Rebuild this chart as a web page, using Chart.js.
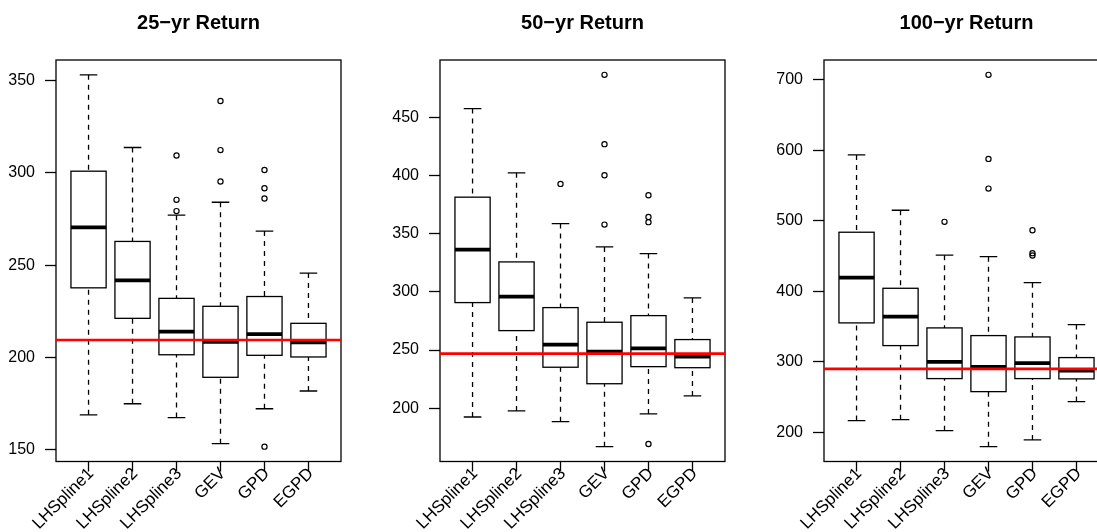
<!DOCTYPE html>
<html>
<head>
<meta charset="utf-8">
<script src="https://cdn.jsdelivr.net/npm/chart.js@4/dist/chart.umd.min.js"></script>
<style>
  html, body { margin: 0; padding: 0; background: #fff; }
  body { position: relative; width: 1097px; height: 532px; overflow: hidden; }
  .panel { position: absolute; top: 0; width: 361px; height: 532px; }
</style>
</head>
<body>
<div class="panel" style="left:0"><canvas id="chart25"></canvas></div>
<div class="panel" style="left:384px"><canvas id="chart50"></canvas></div>
<div class="panel" style="left:768px"><canvas id="chart100"></canvas></div>
<script>
'use strict';

var categories = ['LHSpline1', 'LHSpline2', 'LHSpline3', 'GEV', 'GPD', 'EGPD'];

// 25-yr return level
var lo25 = [169, 175, 167.5, 153.4, 172.3, 181.9];
var q1_25 = [237.7, 221.2, 201.5, 189.3, 201.2, 200.3];
var med25 = [270.4, 241.7, 214, 208.5, 212.7, 208.2];
var q3_25 = [300.8, 262.8, 232, 227.7, 233, 218.5];
var hi25 = [352.9, 313.6, 277, 284, 268.4, 245.7];
var out25 = [[], [], [309.3, 285.3, 279.2], [338.8, 312.2, 295.2], [301.4, 291.6, 286, 151.8], []];
var ref25 = 209.5;
var ticks25 = [150, 200, 250, 300, 350];

// 50-yr return level
var lo50 = [192.4, 197.6, 188.4, 166.9, 195, 210.5];
var q1_50 = [290.8, 266.7, 235.2, 221, 235.7, 234.8];
var med50 = [336.4, 296, 254.7, 248.6, 251.5, 244.3];
var q3_50 = [381.5, 325.8, 286.5, 273.9, 279.6, 259];
var hi50 = [457.7, 402.4, 358.8, 338.7, 333, 294.8];
var out50 = [[], [], [392.9], [486.7, 427.1, 400.4, 357.9], [383.2, 364.5, 360, 169.2], []];
var ref50 = 246.9;
var ticks50 = [200, 250, 300, 350, 400, 450];

// 100-yr return level
var lo100 = [216.3, 217.7, 202.1, 179.4, 188.9, 243.3];
var q1_100 = [354.9, 322.7, 275.9, 257.4, 275.9, 275.5];
var med100 = [419.2, 363.8, 299.6, 292.5, 297.7, 287.2];
var q3_100 = [483.5, 404, 347.8, 336.9, 335, 305.7];
var hi100 = [593.2, 514.7, 450.9, 448.9, 412, 352.5];
var out100 = [[], [], [498.2], [706.7, 587.5, 545.4], [486.4, 453.8, 450.4], []];
var ref100 = 289.7;
var ticks100 = [200, 300, 400, 500, 600, 700];

var FONT = "'Liberation Sans', Arial, Helvetica, sans-serif";
var LW = 1.3;

function boxplotPlugin(lo, q1, med, q3, hi, ref) {
  return {
    id: 'boxplot',
    afterDatasetsDraw: function (chart) {
      var ctx = chart.ctx;
      var xs = chart.scales.x, ys = chart.scales.y;
      var area = chart.chartArea;
      ctx.save();
      ctx.strokeStyle = '#000';
      ctx.lineCap = 'butt';
      categories.forEach(function (name, i) {
        var c = i + 1;
        var xc = xs.getPixelForValue(c);
        var xl = xs.getPixelForValue(c - 0.4), xr = xs.getPixelForValue(c + 0.4);
        var sl = xs.getPixelForValue(c - 0.2), sr = xs.getPixelForValue(c + 0.2);
        var yLo = ys.getPixelForValue(lo[i]), yQ1 = ys.getPixelForValue(q1[i]);
        var yMed = ys.getPixelForValue(med[i]);
        var yQ3 = ys.getPixelForValue(q3[i]), yHi = ys.getPixelForValue(hi[i]);

        // dashed whiskers, drawn from the ends inwards
        ctx.lineWidth = LW;
        ctx.setLineDash([5, 5]);
        ctx.beginPath();
        ctx.moveTo(xc, yHi); ctx.lineTo(xc, yQ3);
        ctx.moveTo(xc, yLo); ctx.lineTo(xc, yQ1);
        ctx.stroke();
        ctx.setLineDash([]);

        // staples
        ctx.beginPath();
        ctx.moveTo(sl, yHi); ctx.lineTo(sr, yHi);
        ctx.moveTo(sl, yLo); ctx.lineTo(sr, yLo);
        ctx.stroke();

        ctx.strokeRect(xl, yQ3, xr - xl, yQ1 - yQ3);

        ctx.lineWidth = 3.75;
        ctx.beginPath();
        ctx.moveTo(xl, yMed); ctx.lineTo(xr, yMed);
        ctx.stroke();
      });

      ctx.lineWidth = LW;
      ctx.strokeRect(area.left, area.top, area.right - area.left, area.bottom - area.top);

      // reference level (abline)
      var yRef = ys.getPixelForValue(ref);
      ctx.strokeStyle = '#ff0000';
      ctx.lineWidth = 2.6;
      ctx.beginPath();
      ctx.moveTo(area.left, yRef); ctx.lineTo(area.right, yRef);
      ctx.stroke();
      ctx.restore();
    }
  };
}

function makePanel(id, title, lo, q1, med, q3, hi, outliers, ref, yTicks) {
  var canvas = document.getElementById(id);
  var all = lo.concat(hi);
  var points = [];
  outliers.forEach(function (list, i) {
    list.forEach(function (v) { points.push({ x: i + 1, y: v }); all.push(v); });
  });
  // R-style 4% axis extension
  var yMin = Math.min.apply(null, all), yMax = Math.max.apply(null, all);
  var yPad = (yMax - yMin) * 0.04;
  var n = categories.length;
  var xPad = n * 0.04;

  new Chart(canvas.getContext('2d'), {
    type: 'scatter',
    data: {
      datasets: [{
        label: 'Outliers',
        data: points,
        pointStyle: 'circle',
        pointRadius: 2.6,
        pointBorderWidth: 1.2,
        pointBorderColor: '#000',
        pointBackgroundColor: 'rgba(0,0,0,0)'
      }]
    },
    options: {
      animation: false,
      responsive: true,
      maintainAspectRatio: false,
      layout: { padding: { left: 0, right: 20, top: 0, bottom: 0 } },
      plugins: {
        legend: { display: false },
        tooltip: { enabled: false },
        title: {
          display: true, text: title, fullSize: false, color: '#000',
          font: { family: FONT, size: 20, weight: 'bold', lineHeight: 1.2 },
          padding: { top: 11, bottom: 25 }
        }
      },
      scales: {
        x: {
          type: 'linear', min: 0.5 - xPad, max: n + 0.5 + xPad,
          afterBuildTicks: function (s) { s.ticks = categories.map(function (c, i) { return { value: i + 1 }; }); },
          afterFit: function (s) { s.height = 70.5; s.paddingLeft = 0; s.paddingRight = 0; },
          border: { display: false },
          grid: { drawOnChartArea: false, drawTicks: true, tickLength: 10, tickColor: '#000', tickWidth: LW },
          ticks: {
            autoSkip: false, minRotation: 45, maxRotation: 45, padding: -7.7, labelOffset: 2.5, color: '#000',
            font: { family: FONT, size: 17 },
            callback: function (v) { return categories[Math.round(v) - 1]; }
          }
        },
        y: {
          min: yMin - yPad, max: yMax + yPad,
          afterBuildTicks: function (s) { s.ticks = yTicks.map(function (v) { return { value: v }; }); },
          afterFit: function (s) { s.width = 56; s.paddingTop = 0; s.paddingBottom = 0; },
          border: { display: false },
          grid: { drawOnChartArea: false, drawTicks: true, tickLength: 11, tickColor: '#000', tickWidth: LW },
          ticks: { padding: 10, color: '#000', font: { family: FONT, size: 16 } }
        }
      }
    },
    plugins: [boxplotPlugin(lo, q1, med, q3, hi, ref)]
  });
}

makePanel('chart25', '25\u2212yr Return', lo25, q1_25, med25, q3_25, hi25, out25, ref25, ticks25);
makePanel('chart50', '50\u2212yr Return', lo50, q1_50, med50, q3_50, hi50, out50, ref50, ticks50);
makePanel('chart100', '100\u2212yr Return', lo100, q1_100, med100, q3_100, hi100, out100, ref100, ticks100);
</script>
</body>
</html>
